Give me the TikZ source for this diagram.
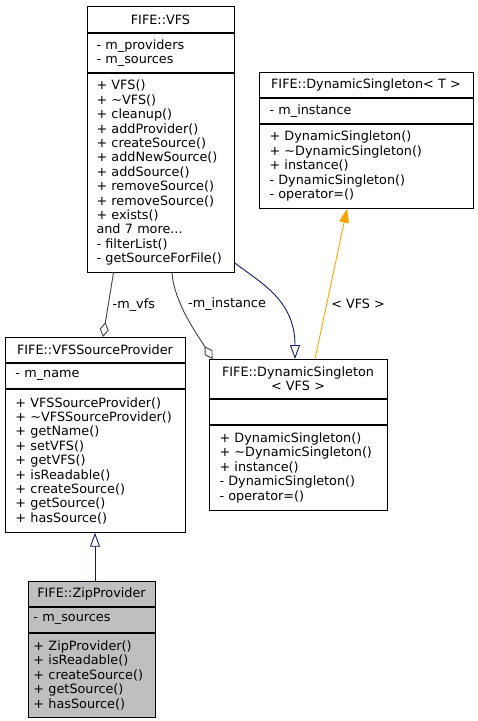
\documentclass[tikz,border=0pt]{standalone}
\usepackage{fontspec}
\setmainfont{DejaVu Sans}
\usetikzlibrary{arrows.meta, positioning}
\definecolor{navy}{RGB}{25,25,112}
\definecolor{edgegray}{RGB}{64,64,64}
\definecolor{tmpl}{RGB}{255,165,0}
\definecolor{zipfill}{RGB}{191,191,191}
\hyphenpenalty=10000

\begin{document}
\begin{tikzpicture}[x=1bp, y=-1bp, line width=0.9bp, font=\fontsize{12.8bp}{14.4bp}\selectfont,
  box/.style 2 args={draw, anchor=north, inner xsep=10.5bp, inner ysep=0pt, text width=#1, minimum height=#2, align=left},
  head/.style={align=center},
  inherit/.style={navy, -{Triangle[open, length=14bp, width=10bp]}},
  member/.style={edgegray, {Diamond[open, length=15bp, width=9bp]}-},
  inst/.style={tmpl, -{Triangle[length=14bp, width=10bp]}},
  lbl/.style={right, inner sep=4bp, text=black}]
\useasboundingbox (0,0) rectangle (478,721);
\node[box={128bp}{26bp}, inner xsep=9.5bp, head] (V) at (160.5,6) {FIFE::VFS};
\node[box={128bp}{39bp}, inner xsep=9.5bp, below=0pt of V.south] (VA) {- m\_providers\\- m\_sources};
\node[box={128bp}{199bp}, inner xsep=9.5bp, below=0pt of VA.south] (VM) {+ VFS()\\+ \textasciitilde VFS()\\+ cleanup()\\+ addProvider()\\+ createSource()\\+ addNewSource()\\+ addSource()\\+ removeSource()\\+ removeSource()\\+ exists()\\and 7 more...\\- filterList()\\- getSourceForFile()};
\node[box={193bp}{25bp}, head] (T) at (366,72) {FIFE::DynamicSingleton< T >};
\node[box={193bp}{25bp}, below=0pt of T.south] (TA) {- m\_instance};
\node[box={193bp}{84bp}, below=0pt of TA.south] (TM) {+ DynamicSingleton()\\+ \textasciitilde DynamicSingleton()\\+ instance()\\- DynamicSingleton()\\- operator=()};
\node[box={159bp}{25bp}, head] (S) at (95,337) {FIFE::VFSSourceProvider};
\node[box={159bp}{25bp}, below=0pt of S.south] (SA) {- m\_name};
\node[box={159bp}{143bp}, below=0pt of SA.south] (SM) {+ VFSSourceProvider()\\+ \textasciitilde VFSSourceProvider()\\+ getName()\\+ setVFS()\\+ getVFS()\\+ isReadable()\\+ createSource()\\+ getSource()\\+ hasSource()};
\node[box={157bp}{39bp}, head] (D) at (298,359) {FIFE::DynamicSingleton\\< VFS >};
\node[box={157bp}{25bp}, below=0pt of D.south] (DA) {};
\node[box={157bp}{85bp}, below=0pt of DA.south] (DM) {+ DynamicSingleton()\\+ \textasciitilde DynamicSingleton()\\+ instance()\\- DynamicSingleton()\\- operator=()};
\node[box={116bp}{25bp}, inner xsep=5.5bp, head, fill=zipfill] (Z) at (91.5,581) {FIFE::ZipProvider};
\node[box={116bp}{25bp}, inner xsep=5.5bp, fill=zipfill, below=0pt of Z.south] (ZA) {- m\_sources};
\node[box={116bp}{84bp}, inner xsep=5.5bp, fill=zipfill, below=0pt of ZA.south] (ZM) {+ ZipProvider()\\+ isReadable()\\+ createSource()\\+ getSource()\\+ hasSource()};
\draw[inherit] (Z.north -| SM.south) -- (SM.south);
\draw[member] ([xshift=8bp]S.north) -- node[lbl, pos=0.5] {-m\_vfs} ([xshift=-47bp]VM.south);
\draw[member] ([xshift=4bp]D.north west) .. controls +(-15,-24) and +(2,30) .. node[lbl, pos=0.65, xshift=3bp] {-m\_instance} ([xshift=11.5bp]VM.south);
\draw[inherit] ([yshift=10bp]VM.south east) .. controls +(26,20) and +(0,-59) .. ([xshift=-3bp]D.north);
\draw[inst] ([xshift=17bp]D.north) -- node[lbl, pos=0.37] {< VFS >} ([xshift=-19bp]TM.south);
\end{tikzpicture}
\end{document}
